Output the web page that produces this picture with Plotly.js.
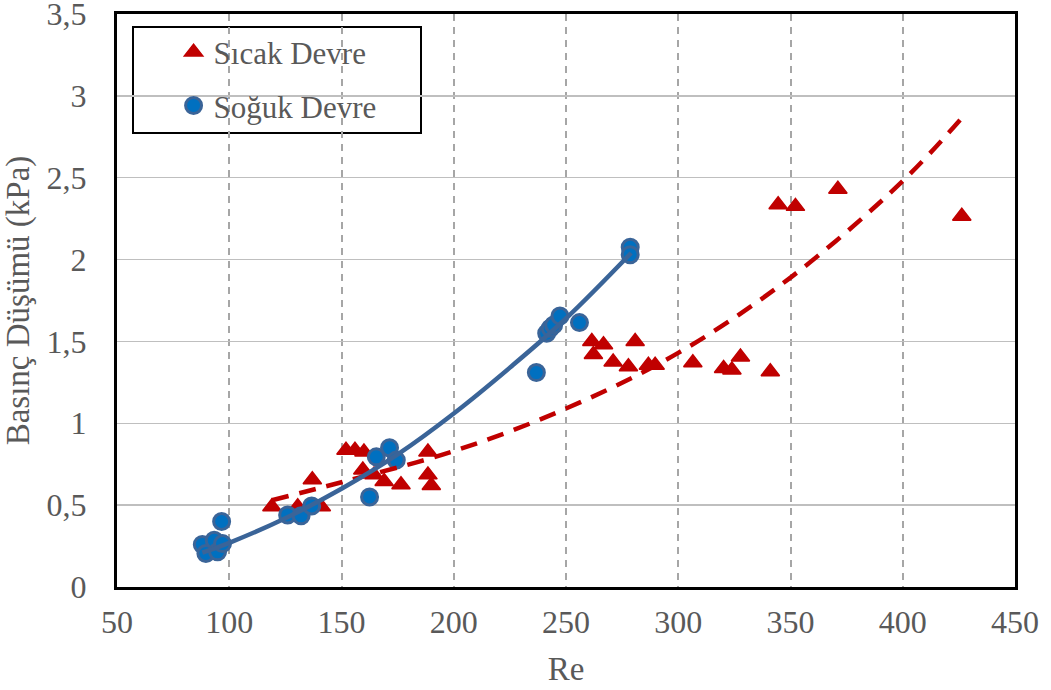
<!DOCTYPE html>
<html>
<head>
<meta charset="utf-8">
<script src="https://cdn.plot.ly/plotly-3.0.1.min.js"></script>
<style>
  html, body { margin: 0; padding: 0; background: #ffffff; }
  #chart { width: 1051px; height: 690px; }
</style>
</head>
<body>
<div id="chart"></div>
<script>
// Measured pressure drop vs Reynolds number, hot and cold loops
const hotRe = [119, 130.5, 137, 141, 152, 156, 160, 159.5, 164.5, 169, 176.5, 188.5, 188.5, 190,
               261.5, 262.2, 266.7, 271, 277.8, 280.8, 286.7, 289.7, 306.5, 320.2, 323.9, 327.7, 341,
               344.5, 352.2, 371.1, 426.3];
const hotDP = [0.49, 0.49, 0.655, 0.49, 0.835, 0.835, 0.825, 0.715, 0.685, 0.645, 0.625, 0.825, 0.685, 0.62,
               1.50, 1.42, 1.48, 1.375, 1.345, 1.50, 1.355, 1.355, 1.37, 1.335, 1.325, 1.405, 1.315,
               2.335, 2.325, 2.43, 2.265];

const coldRe = [88, 89.6, 93.3, 94.8, 96.6, 97, 126, 132, 136.7, 162.5, 165.5, 171.4, 174.4,
                236.8, 241.4, 243, 244.5, 247.3, 256, 278.6, 278.6];
const coldDP = [0.26, 0.205, 0.285, 0.215, 0.40, 0.265, 0.44, 0.435, 0.495, 0.55, 0.795, 0.85, 0.775,
                1.31, 1.55, 1.58, 1.60, 1.655, 1.615, 2.075, 2.03];

// Trend curves
const hotFitRe = [119, 150, 200, 250, 300, 350, 400, 426];
const hotFitDP = [0.53, 0.64, 0.83, 1.09, 1.43, 1.89, 2.48, 2.86];
const coldFitRe = [88, 100, 125, 150, 175, 200, 225, 250, 279];
const coldFitDP = [0.21, 0.27, 0.42, 0.60, 0.81, 1.06, 1.34, 1.64, 2.04];

const xTicks = [50, 100, 150, 200, 250, 300, 350, 400, 450];
const xTickText = ['50', '100', '150', '200', '250', '300', '350', '400', '450'];
const yTicks = [0, 0.5, 1, 1.5, 2, 2.5, 3, 3.5];
const yTickText = ['0', '0,5', '1', '1,5', '2', '2,5', '3', '3,5'];

const RED = '#C00000';
const BLUE_FILL = '#0070C0';
const BLUE_LINE = '#3A6498';
const TEXT = '#595959';
const FONT = 'Times New Roman, Liberation Serif, serif';

const traces = [
  {
    x: hotRe, y: hotDP, type: 'scatter', mode: 'markers', name: 'Sıcak Devre',
    legendgroup: 'a',
    marker: { symbol: 'triangle-up', size: 16, color: RED, line: { color: RED, width: 1.5 } }
  },
  {
    x: coldRe, y: coldDP, type: 'scatter', mode: 'markers', name: 'Soğuk Devre',
    legendgroup: 'b',
    marker: { symbol: 'circle', size: 16, color: BLUE_FILL, line: { color: BLUE_LINE, width: 3 } }
  },
  {
    x: hotFitRe, y: hotFitDP, type: 'scatter', mode: 'lines', showlegend: false,
    line: { color: RED, width: 4.5, dash: '17px,11px', shape: 'spline' }
  },
  {
    x: coldFitRe, y: coldFitDP, type: 'scatter', mode: 'lines', showlegend: false,
    line: { color: BLUE_LINE, width: 4.5, shape: 'spline' }
  }
];

const layout = {
  width: 1051, height: 690,
  margin: { l: 117, r: 36, t: 14, b: 103 },
  paper_bgcolor: '#ffffff', plot_bgcolor: '#ffffff',
  font: { family: FONT, color: TEXT, size: 32 },
  showlegend: true,
  xaxis: {
    range: [50, 450], tickvals: xTicks, ticktext: xTickText,
    showline: true, linecolor: '#000000', linewidth: 3, mirror: true,
    showgrid: true, gridcolor: '#A6A6A6', gridwidth: 2, griddash: '7px,6px',
    zeroline: false, ticks: '', ticklabelstandoff: 5, ticklabeloverflow: 'allow',
    tickfont: { family: FONT, size: 32, color: TEXT },
    title: { text: 'Re', font: { family: FONT, size: 33, color: TEXT }, standoff: 18 }
  },
  yaxis: {
    range: [0, 3.5], tickvals: yTicks, ticktext: yTickText,
    showline: true, linecolor: '#000000', linewidth: 3, mirror: true,
    showgrid: true, gridcolor: '#BFBFBF', gridwidth: 1.5,
    zeroline: false, ticks: '', ticklabelstandoff: 21, ticklabeloverflow: 'allow',
    tickfont: { family: FONT, size: 32, color: TEXT },
    title: { text: 'Basınç Düşümü (kPa)', font: { family: FONT, size: 33, color: TEXT }, standoff: 13 }
  },
  legend: {
    x: 0.063, y: 0.98, xanchor: 'left', yanchor: 'top',
    bgcolor: 'rgba(0,0,0,0)', borderwidth: 0,
    traceorder: 'grouped', tracegroupgap: 10,
    font: { family: FONT, size: 31, color: TEXT }
  },
  shapes: [
    {
      type: 'rect', xref: 'paper', yref: 'paper',
      x0: (133 - 117) / 898, x1: (421 - 117) / 898,
      y0: (587 - 133) / 573, y1: (587 - 27) / 573,
      line: { color: '#000000', width: 2 }, fillcolor: '#ffffff', layer: 'below'
    }
  ]
};

Plotly.newPlot('chart', traces, layout, { displayModeBar: false, staticPlot: true });
</script>
</body>
</html>
